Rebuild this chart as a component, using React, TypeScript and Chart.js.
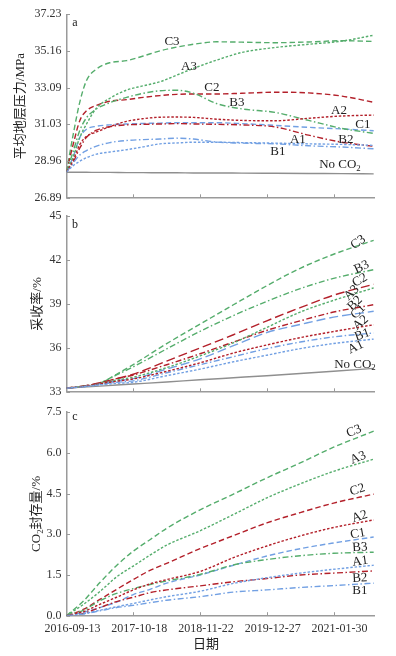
import React, { useEffect, useRef } from 'react';
import { Chart, registerables } from 'chart.js';
Chart.register(...registerables);

// ---------- shared axis data ----------
const xTickDays = [0, 400, 800, 1200, 1600];
const xTickLabels = ['2016-09-13', '2017-10-18', '2018-11-22', '2019-12-27', '2021-01-30'];
const X_MAX = 1845;

// ---------- panel a: average formation pressure (MPa) ----------
const daysA = [0, 40, 80, 120, 180, 260, 360, 460, 560, 660, 760, 900, 1050, 1250, 1450, 1650, 1840];
const pressA1 = [28.35, 28.7, 28.95, 29.15, 29.35, 29.47, 29.6, 29.76, 29.93, 29.98, 30.02, 30.02, 30.0, 29.97, 29.93, 29.9, 29.84];
const pressA2 = [28.35, 29.0, 29.9, 30.35, 30.6, 30.9, 31.2, 31.35, 31.43, 31.44, 31.42, 31.32, 31.25, 31.23, 31.37, 31.5, 31.55];
const pressA3 = [28.35, 29.2, 30.3, 31.05, 31.95, 32.5, 32.96, 33.2, 33.43, 33.8, 34.18, 34.65, 35.08, 35.36, 35.54, 35.72, 36.05];
const pressB1 = [28.35, 28.85, 29.3, 29.55, 29.8, 30.0, 30.12, 30.17, 30.2, 30.25, 30.2, 30.03, 29.97, 29.93, 29.82, 29.75, 29.65];
const pressB2 = [28.35, 28.9, 29.7, 30.3, 30.7, 30.9, 31.0, 31.03, 31.05, 31.07, 31.05, 31.03, 31.0, 30.88, 30.42, 30.02, 29.79];
const pressB3 = [28.35, 29.5, 30.7, 31.4, 31.9, 32.25, 32.55, 32.78, 32.92, 32.95, 32.78, 32.2, 31.9, 31.7, 31.25, 30.8, 30.52];
const pressC1 = [28.35, 29.2, 30.3, 30.75, 30.92, 31.0, 31.05, 31.08, 31.1, 31.12, 31.12, 31.12, 31.07, 30.97, 30.86, 30.77, 30.67];
const pressC2 = [28.35, 29.9, 31.25, 31.8, 32.1, 32.33, 32.42, 32.55, 32.65, 32.72, 32.74, 32.74, 32.78, 32.84, 32.8, 32.62, 32.27];
const pressC3 = [28.35, 30.45, 32.3, 33.5, 34.15, 34.5, 34.62, 34.88, 35.17, 35.38, 35.54, 35.68, 35.66, 35.63, 35.67, 35.74, 35.7];
const pressNoCO2 = [28.33, 28.33, 28.33, 28.33, 28.32, 28.32, 28.31, 28.31, 28.3, 28.3, 28.29, 28.29, 28.28, 28.27, 28.26, 28.25, 28.24];
const yTicksA = [26.89, 28.96, 31.03, 33.09, 35.16, 37.23];
const yTickLabelsA = ['26.89', '28.96', '31.03', '33.09', '35.16', '37.23'];

// ---------- panel b: recovery factor (%) ----------
const daysB = [0, 100, 200, 300, 400, 600, 800, 1000, 1200, 1400, 1600, 1840];
const recA1 = [33.25, 33.34, 33.47, 33.58, 33.65, 34.1, 34.55, 35.05, 35.5, 35.95, 36.3, 36.6];
const recA2 = [33.25, 33.36, 33.55, 33.72, 33.88, 34.4, 34.98, 35.65, 36.2, 36.7, 37.12, 37.58];
const recA3 = [33.25, 33.36, 33.55, 33.8, 34.0, 34.65, 35.45, 36.35, 37.4, 38.45, 39.25, 40.1];
const recB1 = [33.25, 33.35, 33.5, 33.65, 33.75, 34.3, 34.85, 35.4, 35.95, 36.4, 36.75, 37.02];
const recB2 = [33.25, 33.38, 33.6, 33.9, 34.15, 34.85, 35.6, 36.4, 37.2, 37.85, 38.45, 38.95];
const recB3 = [33.25, 33.38, 33.6, 34.15, 34.71, 35.93, 37.13, 38.21, 39.18, 40.05, 40.75, 41.35];
const recC1 = [33.25, 33.36, 33.55, 33.75, 33.9, 34.55, 35.25, 36.15, 37.05, 37.6, 38.1, 38.5];
const recC2 = [33.25, 33.38, 33.62, 33.9, 34.2, 35.1, 36.0, 36.9, 37.85, 38.75, 39.6, 40.35];
const recC3 = [33.25, 33.38, 33.6, 34.2, 34.86, 36.29, 37.62, 38.95, 40.25, 41.44, 42.4, 43.35];
const recNoCO2 = [33.25, 33.32, 33.39, 33.46, 33.53, 33.67, 33.82, 33.96, 34.1, 34.25, 34.4, 34.6];
const yTicksB = [33, 36, 39, 42, 45];
const yTickLabelsB = ['33', '36', '39', '42', '45'];

// ---------- panel c: CO2 storage (%) ----------
const daysC = [0, 100, 200, 300, 400, 500, 600, 800, 1000, 1200, 1400, 1600, 1840];
const storA1 = [0, 0.07, 0.2, 0.33, 0.45, 0.58, 0.7, 0.9, 1.19, 1.4, 1.57, 1.71, 1.86];
const storA2 = [0, 0.15, 0.42, 0.68, 0.95, 1.17, 1.33, 1.63, 2.14, 2.57, 2.94, 3.25, 3.53];
const storA3 = [0, 0.41, 0.89, 1.43, 1.83, 2.23, 2.6, 3.13, 3.73, 4.34, 4.86, 5.32, 5.77];
const storB1 = [0, 0.06, 0.18, 0.3, 0.38, 0.48, 0.57, 0.7, 0.87, 0.95, 1.04, 1.11, 1.2];
const storB2 = [0, 0.08, 0.3, 0.52, 0.68, 0.85, 0.95, 1.1, 1.25, 1.37, 1.5, 1.57, 1.65];
const storB3 = [0, 0.2, 0.55, 0.82, 1.0, 1.15, 1.28, 1.52, 1.87, 2.07, 2.21, 2.3, 2.34];
const storC1 = [0, 0.12, 0.3, 0.5, 0.78, 0.97, 1.2, 1.5, 1.86, 2.2, 2.47, 2.68, 2.9];
const storC2 = [0, 0.23, 0.6, 0.97, 1.33, 1.67, 1.93, 2.47, 2.95, 3.42, 3.8, 4.15, 4.48];
const storC3 = [0, 0.53, 1.22, 1.85, 2.38, 2.8, 3.22, 3.9, 4.48, 5.08, 5.63, 6.21, 6.8];
const yTicksC = [0, 1.5, 3, 4.5, 6, 7.5];
const yTickLabelsC = ['0.0', '1.5', '3.0', '4.5', '6.0', '7.5'];

// ---------- styles ----------
const GREEN = '#55ad6c';
const RED = '#b3202a';
const BLUE = '#72a0e3';
const GRAY = '#8f8f8f';
const AXIS = '#9a9a9a';
const TEXT = '#222222';
const FAM = '"Liberation Serif", "Noto Sans CJK SC", serif';

const colorOf = (n: string) => (n[1] === '1' ? BLUE : n[1] === '2' ? RED : GREEN);
const dashOf = (n: string, panel: string) => {
  if (n[0] === 'A') return [2.5, 1.8];
  if (n[0] === 'B') return [6, 2.5, 1.5, 2.5];
  if (panel === 'b' && n !== 'C3') return [9, 4];
  return [5.5, 3];
};

type Part = { t: string; sub?: boolean };
const NOCO2: Part[] = [{ t: 'No CO' }, { t: '2', sub: true }];

function drawRich(ctx: CanvasRenderingContext2D, parts: Part[], x: number, y: number, size: number) {
  let w = 0;
  const ms = parts.map((p) => {
    const s = p.sub ? size * 0.68 : size;
    ctx.font = `${s}px ${FAM}`;
    const m = ctx.measureText(p.t).width;
    w += m;
    return { s, m };
  });
  let cx = x - w / 2;
  ctx.textBaseline = 'middle';
  ctx.textAlign = 'left';
  parts.forEach((p, i) => {
    ctx.font = `${ms[i].s}px ${FAM}`;
    ctx.fillText(p.t, cx, p.sub ? y + size * 0.3 : y);
    cx += ms[i].m;
  });
}

type Lbl = { t: string; d: number; v: number; r: number };

const labelsA: Lbl[] = [
  { t: 'C3', d: 632, v: 35.7, r: 0 },
  { t: 'A3', d: 734, v: 34.27, r: 0 },
  { t: 'C2', d: 871, v: 33.11, r: 0 },
  { t: 'B3', d: 1021, v: 32.28, r: 0 },
  { t: 'A2', d: 1632, v: 31.79, r: 0 },
  { t: 'C1', d: 1775, v: 31.02, r: 0 },
  { t: 'A1', d: 1386, v: 30.19, r: 0 },
  { t: 'B2', d: 1674, v: 30.19, r: 0 },
  { t: 'B1', d: 1266, v: 29.47, r: 0 },
  { t: 'NoCO2', d: 1638, v: 28.75, r: 0 },
];
const labelsB: Lbl[] = [
  { t: 'C3', d: 1747, v: 43.22, r: -35 },
  { t: 'B3', d: 1768, v: 41.52, r: -25 },
  { t: 'C2', d: 1757, v: 40.62, r: -30 },
  { t: 'A3', d: 1708, v: 39.77, r: -45 },
  { t: 'B2', d: 1728, v: 39.05, r: -45 },
  { t: 'C1', d: 1747, v: 38.48, r: -45 },
  { t: 'A2', d: 1762, v: 37.72, r: -40 },
  { t: 'B1', d: 1772, v: 36.88, r: -20 },
  { t: 'A1', d: 1732, v: 36.05, r: -25 },
  { t: 'NoCO2', d: 1728, v: 34.89, r: 0 },
];
const labelsC: Lbl[] = [
  { t: 'C3', d: 1722, v: 6.8, r: -22 },
  { t: 'A3', d: 1747, v: 5.82, r: -22 },
  { t: 'C2', d: 1742, v: 4.64, r: -18 },
  { t: 'A2', d: 1756, v: 3.65, r: -18 },
  { t: 'C1', d: 1745, v: 3.02, r: -10 },
  { t: 'B3', d: 1757, v: 2.52, r: -4 },
  { t: 'A1', d: 1759, v: 2.0, r: -8 },
  { t: 'B2', d: 1757, v: 1.38, r: -3 },
  { t: 'B1', d: 1757, v: 0.92, r: 0 },
];

type PanelCfg = {
  id: string;
  top: number;
  h: number;
  padTop: number;
  areaBottom: number;
  days: number[];
  series: Record<string, number[]>;
  noCO2?: number[];
  yMin: number;
  yMax: number;
  yTicks: number[];
  yTickLabels: string[];
  labels: Lbl[];
  letter: string;
  letterY: number;
  title: Part[];
  titleX: number;
  showX: boolean;
};

const panels: PanelCfg[] = [
  {
    id: 'a', top: 0, h: 210, padTop: 14.3, areaBottom: 201.8, days: daysA,
    series: { A1: pressA1, A2: pressA2, A3: pressA3, B1: pressB1, B2: pressB2, B3: pressB3, C1: pressC1, C2: pressC2, C3: pressC3 },
    noCO2: pressNoCO2, yMin: 26.89, yMax: 37.23, yTicks: yTicksA, yTickLabels: yTickLabelsA,
    labels: labelsA, letter: 'a', letterY: 23, title: [{ t: '平均地层压力/MPa' }], titleX: 21, showX: false,
  },
  {
    id: 'b', top: 204, h: 200, padTop: 10.1, areaBottom: 395.3, days: daysB,
    series: { A1: recA1, A2: recA2, A3: recA3, B1: recB1, B2: recB2, B3: recB3, C1: recC1, C2: recC2, C3: recC3 },
    noCO2: recNoCO2, yMin: 33, yMax: 45, yTicks: yTicksB, yTickLabels: yTickLabelsB,
    labels: labelsB, letter: 'b', letterY: 225, title: [{ t: '采收率/%' }], titleX: 38, showX: false,
  },
  {
    id: 'c', top: 400, h: 256, padTop: 10.9, areaBottom: 615.7, days: daysC,
    series: { A1: storA1, A2: storA2, A3: storA3, B1: storB1, B2: storB2, B3: storB3, C1: storC1, C2: storC2, C3: storC3 },
    yMin: 0, yMax: 7.5, yTicks: yTicksC, yTickLabels: yTickLabelsC,
    labels: labelsC, letter: 'c', letterY: 417, title: [{ t: 'CO' }, { t: '2', sub: true }, { t: '封存量/%' }], titleX: 37, showX: true,
  },
];

const AREA_LEFT = 66.5;
const AREA_RIGHT = 374.5;

function Panel({ cfg }: { cfg: PanelCfg }) {
  const ref = useRef<HTMLCanvasElement>(null);
  useEffect(() => {
    const names = Object.keys(cfg.series);
    const datasets: any[] = names.map((n) => ({
      label: n,
      data: cfg.days.map((d, i) => ({ x: d, y: cfg.series[n][i] })),
      borderColor: colorOf(n),
      borderWidth: 1.4,
      borderDash: dashOf(n, cfg.id),
      pointRadius: 0,
      fill: false,
      cubicInterpolationMode: 'monotone',
    }));
    if (cfg.noCO2) {
      datasets.push({
        label: 'No CO2',
        data: cfg.days.map((d, i) => ({ x: d, y: cfg.noCO2![i] })),
        borderColor: GRAY,
        borderWidth: 1.4,
        pointRadius: 0,
        fill: false,
        cubicInterpolationMode: 'monotone',
      });
    }
    const decor = {
      id: 'decor',
      afterDraw(chart: any) {
        const ctx: CanvasRenderingContext2D = chart.ctx;
        const xs = chart.scales.x;
        const ys = chart.scales.y;
        ctx.save();
        ctx.strokeStyle = AXIS;
        ctx.lineWidth = 1;
        ctx.beginPath();
        xTickDays.forEach((d) => {
          if (d === 0) return;
          const px = Math.round(xs.getPixelForValue(d)) + 0.5;
          ctx.moveTo(px, ys.bottom);
          ctx.lineTo(px, ys.bottom - 3.5);
        });
        cfg.yTicks.forEach((v) => {
          const py = Math.round(ys.getPixelForValue(v)) + 0.5;
          ctx.moveTo(xs.left, py);
          ctx.lineTo(xs.left + 3.5, py);
        });
        ctx.stroke();
        ctx.fillStyle = TEXT;
        cfg.labels.forEach((l) => {
          const x = xs.getPixelForValue(l.d);
          const y = ys.getPixelForValue(l.v);
          ctx.save();
          ctx.translate(x, y);
          ctx.rotate((l.r * Math.PI) / 180);
          drawRich(ctx, l.t === 'NoCO2' ? NOCO2 : [{ t: l.t }], 0, 0, 13);
          ctx.restore();
        });
        drawRich(ctx, [{ t: cfg.letter }], 75, cfg.letterY - cfg.top, 12);
        ctx.save();
        ctx.translate(cfg.titleX, (ys.top + ys.bottom) / 2);
        ctx.rotate(-Math.PI / 2);
        drawRich(ctx, cfg.title, 0, 0, 13);
        ctx.restore();
        if (cfg.showX) drawRich(ctx, [{ t: '日期' }], 206, 645 - cfg.top, 13);
        ctx.restore();
      },
    };
    const chart = new Chart(ref.current!, {
      type: 'line',
      data: { datasets },
      options: {
        animation: false,
        responsive: false,
        maintainAspectRatio: false,
        layout: { padding: { left: 0, right: 396 - AREA_RIGHT, top: cfg.padTop, bottom: 0 } },
        plugins: { legend: { display: false }, tooltip: { enabled: false } },
        scales: {
          x: {
            type: 'linear',
            min: 0,
            max: X_MAX,
            grid: { display: false, drawTicks: false },
            border: { display: true, color: AXIS, width: 1.5 },
            afterBuildTicks: (s: any) => {
              s.ticks = xTickDays.map((v) => ({ value: v }));
            },
            afterFit: (s: any) => {
              s.height = cfg.top + cfg.h - cfg.areaBottom;
            },
            ticks: {
              display: cfg.showX,
              maxRotation: 0,
              autoSkip: false,
              padding: 6,
              labelOffset: 6,
              color: '#333',
              font: { family: FAM, size: 12 },
              callback: (_v: any, i: number) => xTickLabels[i],
            },
          },
          y: {
            type: 'linear',
            min: cfg.yMin,
            max: cfg.yMax,
            grid: { display: false, drawTicks: false },
            border: { display: true, color: AXIS, width: 1.5 },
            afterBuildTicks: (s: any) => {
              s.ticks = cfg.yTicks.map((v) => ({ value: v }));
            },
            afterFit: (s: any) => {
              s.width = AREA_LEFT;
            },
            ticks: {
              padding: 5,
              autoSkip: false,
              color: '#333',
              font: { family: FAM, size: 12 },
              callback: (_v: any, i: number) => cfg.yTickLabels[i],
            },
          },
        },
      } as any,
      plugins: [decor],
    });
    return () => chart.destroy();
  }, []);
  return (
    <canvas
      ref={ref}
      width={396}
      height={cfg.h}
      style={{ position: 'absolute', left: 0, top: cfg.top, width: 396, height: cfg.h }}
    />
  );
}

export default function App() {
  return (
    <div style={{ position: 'absolute', left: 0, top: 0, width: 396, height: 656, background: '#ffffff', overflow: 'hidden' }}>
      {panels.map((p) => (
        <Panel key={p.id} cfg={p} />
      ))}
    </div>
  );
}
